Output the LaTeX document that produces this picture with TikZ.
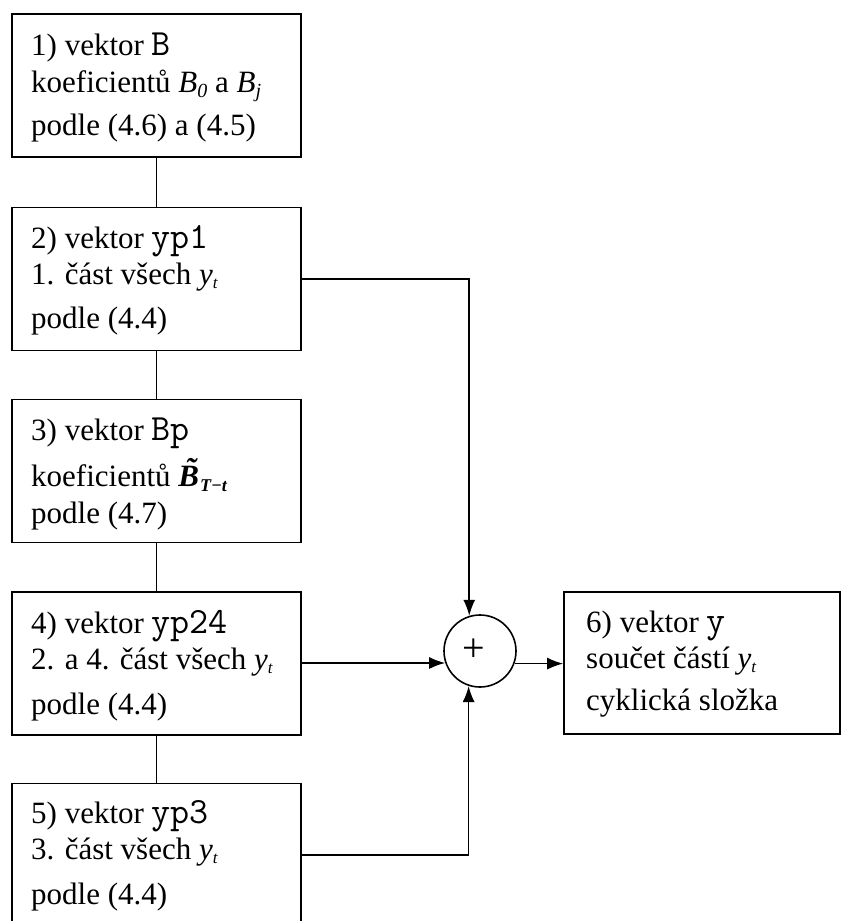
\documentclass[tikz,border=0pt]{standalone}
\usepackage{fontspec}
\setmainfont{Liberation Serif}
\usetikzlibrary{arrows.meta}

% three text lines with given gaps between baselines (in pt)
\newcommand\threeln[5]{\vtop{\offinterlineskip
  \hbox{\smash{#1}}\vskip#4pt
  \hbox{\smash{#2}}\vskip#5pt
  \hbox{\smash{#3}}}}
\newcommand\mono[1]{{\fontsize{37}{40}\selectfont\ttfamily #1}}
\newcommand\lowsub[1]{\raisebox{-5pt}{\fontsize{20}{20}\selectfont\itshape #1}}
\newcommand\ysub{\textit{y}\raisebox{-4pt}{\fontsize{17}{17}\selectfont\itshape t}}
\newcommand\Btilde{{\bfseries\itshape\accent"02DC B}\kern1pt\raisebox{-5pt}{\fontsize{18}{18}\selectfont\bfseries\itshape T−t}}

\begin{document}
\begin{tikzpicture}[x=1pt,y=-1pt,
  every node/.style={font=\fontsize{31}{40}\selectfont},
  box/.style={draw, line width=1.6pt, minimum width=289pt, minimum height=143pt, inner sep=0pt},
  txt/.style={anchor=base west, inner sep=0pt},
  sum/.style={draw, circle, line width=1.6pt, minimum size=72pt, inner sep=0pt},
  link/.style={line width=1.6pt},
  arr/.style={line width=1.6pt, -{Latex[length=16pt,width=12pt]}}]
\useasboundingbox (0,0) rectangle (842,921);
\clip (0,0) rectangle (842,921);

% left column of steps
\node[box] (b1) at (156.5,85.5) {};
\node[box] (b2) at (156.5,279) {};
\node[box] (b3) at (156.5,471) {};
\node[box] (b4) at (156.5,663.5) {};
\node[box] (b5) at (156.5,855) {};

% summing junction and result
\node[sum] (s) at (480,651) {};
\node (plus) at (474,650) {\fontsize{40}{40}\selectfont +};
\node[box, minimum width=276pt, minimum height=142pt] (b6) at (702,663) {};

% box texts
\node[txt] (t1) at (31,55) {\threeln{1) vektor \mono{B}}{koeficientů \textit{B}\lowsub{0} a \textit{B}\lowsub{j}}{podle (4.6) a (4.5)}{37}{43}};
\node[txt] (t2) at (31,248) {\threeln{2) vektor \mono{yp1}}{1. část všech \ysub}{podle (4.4)}{36}{44}};
\node[txt] (t3) at (31,440) {\threeln{3) vektor \mono{Bp}}{koeficientů \Btilde}{podle (4.7)}{46}{37}};
\node[txt] (t4) at (31,633) {\threeln{4) vektor \mono{yp24}}{2. a 4. část všech \ysub}{podle (4.4)}{36}{45}};
\node[txt] (t5) at (31,823) {\threeln{5) vektor \mono{yp3}}{3. část všech \ysub}{podle (4.4)}{36}{45}};
\node[txt] (t6) at (586,632) {\threeln{6) vektor \mono{y}}{součet částí \ysub}{cyklická složka}{36}{42}};

% chain between the steps
\draw[link] (b1.south) -- (b2.north);
\draw[link] (b2.south) -- (b3.north);
\draw[link] (b3.south) -- (b4.north);
\draw[link] (b4.south) -- (b5.north);

% inputs to the junction and output
\draw[arr] (b2.east) -| (s.107.8);
\draw[arr] (s.199.5 -| b4.east) -- (s.199.5);
\draw[arr] (b5.east) -| (s.252.2);
\draw[arr] (s.340.5) -- (s.340.5 -| b6.west);
\end{tikzpicture}
\end{document}
